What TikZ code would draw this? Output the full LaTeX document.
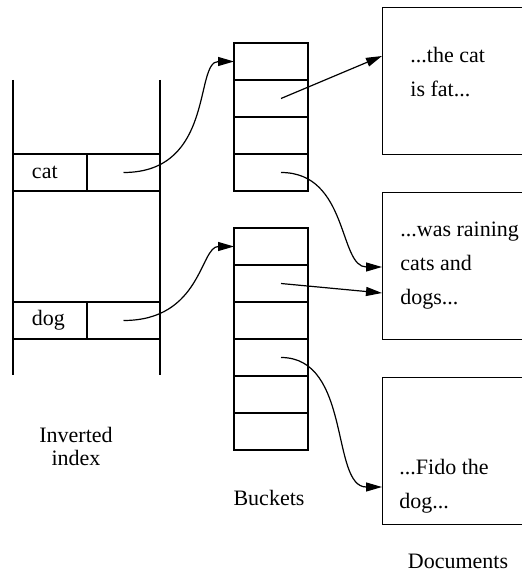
\documentclass[tikz,border=0pt]{standalone}
\usepackage{fontspec}
\setmainfont{Liberation Serif}
\usetikzlibrary{arrows.meta}
\tikzset{
  cell/.style={
    rectangle, draw=black, line width=0.7pt,
    inner sep=0pt, outer sep=0pt, minimum height=18.5pt
  },
  keycell/.style={
    cell, minimum width=37pt, text width=18pt, inner xsep=9.5pt,
    align=left, font=\fontsize{11}{13}\selectfont
  },
  ptrcell/.style={cell, minimum width=36.5pt},
  bucket/.style={cell, minimum width=37pt},
  doc/.style={
    rectangle, draw=black, line width=0.7pt, inner sep=0pt,
    minimum width=80pt, minimum height=73.5pt, anchor=north west
  },
  doctext/.style={
    align=left, inner sep=0pt, anchor=base west,
    font=\fontsize{11}{17}\selectfont
  },
  caption/.style={
    align=center, inner sep=0pt, anchor=base,
    font=\fontsize{11}{11.5}\selectfont
  },
  arrow/.style={-{Triangle[length=8pt,width=4.5pt]}, line width=0.6pt}
}
\begin{document}
\begin{tikzpicture}[x=0.5pt, y=-0.5pt]
\useasboundingbox (0,0) rectangle (521,583);

% Inverted index
\draw[line width=0.7pt] (13,80) -- (13,375);
\draw[line width=0.7pt] (160,80) -- (160,375);
\node[keycell] (catkey) at (50,172.5) {cat};
\node[ptrcell] (catptr) at (123.5,172.5) {};
\node[keycell] (dogkey) at (50,320.5) {dog};
\node[ptrcell] (dogptr) at (123.5,320.5) {};
\node[caption] (idxlabel) at (76,465) {Inverted\\index};

% Buckets
\foreach \i in {1,...,4}
  \node[bucket] (b1-\i) at (271,{24.5+37*\i}) {};
\foreach \i in {1,...,6}
  \node[bucket] (b2-\i) at (271,{209.5+37*\i}) {};
\node[caption] (bktlabel) at (269,505) {Buckets};

% Documents (base = last line)
\node[doc] (d1) at (382,7) {};
\node[doc] (d2) at (382,192) {};
\node[doc] (d3) at (382,377) {};
\node[doctext] (t1) at (410,97) {...the cat\\is fat...};
\node[doctext] (t2) at (400,304) {...was raining\\cats and\\dogs...};
\node[doctext] (t3) at (399,508) {...Fido the\\dog...};
\node[caption] (doclabel) at (458,568) {Documents};

\coordinate (d1in) at (382,56);
\coordinate (d2in) at (382,267);
\coordinate (d2in2) at (382,293);
\coordinate (d3in) at (382,487);

% Pointers
\draw[arrow] (catptr.center) to[out=0, in=180, out looseness=1.5, in looseness=0.65] (b1-1.west);
\draw[arrow] (dogptr.center) to[out=0, in=180, out looseness=1.5, in looseness=0.65] (b2-1.west);
\draw[arrow] ([xshift=5pt]b1-2.center) -- (d1in);
\draw[arrow] ([xshift=5pt]b1-4.center) to[out=0, in=180, out looseness=1.25, in looseness=0.8] (d2in);
\draw[arrow] ([xshift=5pt]b2-2.center) -- (d2in2);
\draw[arrow] ([xshift=5pt]b2-4.center) to[out=0, in=180, out looseness=1.1, in looseness=0.8] (d3in);

\end{tikzpicture}
\end{document}
